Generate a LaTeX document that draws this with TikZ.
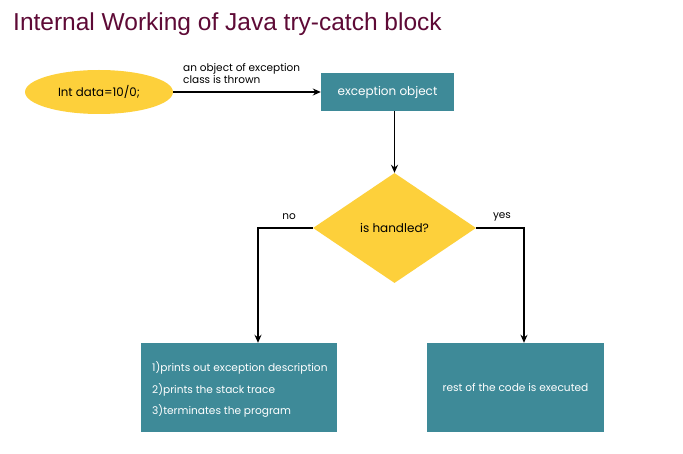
\documentclass[tikz,border=0pt]{standalone}
\usepackage{fontspec}
\setmainfont{Poppins}
\newfontfamily\titlefont{Liberation Sans}
\usetikzlibrary{shapes.geometric,arrows.meta}
\definecolor{ygold}{HTML}{FDD03B}
\definecolor{tealbox}{HTML}{3E8A98}
\definecolor{titlecol}{HTML}{5E0A36}
\tikzset{
  conn/.style={line width=1.3pt,-{Stealth[length=8pt,width=7pt]}},
  tbox/.style={fill=tealbox,draw=none,text=white},
  lbl/.style={font=\fontsize{10.5}{12}\selectfont,text=black,inner sep=0pt},
  boxline/.style={anchor=base west,text=white,font=\fontsize{10.6}{12}\selectfont,inner sep=0pt}
}
\begin{document}
\begin{tikzpicture}[x=1pt,y=-1pt]
\useasboundingbox (0,0) rectangle (683,454);
\fill[white] (0,0) rectangle (683,454);
\node[anchor=base west,text=titlecol,font=\titlefont\fontsize{24.5}{28}\selectfont,inner sep=0pt] (title) at (13,31) {Internal Working of Java try-catch block};
\node[ellipse,fill=ygold,minimum width=148pt,minimum height=44pt,inner sep=0pt,font=\fontsize{11.8}{14}\selectfont] (start) at (99,92) {Int data=10/0;};
\node[tbox,minimum width=133pt,minimum height=38pt,inner sep=0pt,font=\fontsize{12}{14}\selectfont] (exc) at (387.5,92) {exception object};
\node[diamond,fill=ygold,minimum width=163pt,minimum height=110pt,inner sep=0pt,aspect=1.48,font=\fontsize{12}{14}\selectfont] (dec) at (394.5,228) {is handled?};
\node[tbox,minimum width=196pt,minimum height=89pt,inner sep=0pt] (left) at (239,387.5) {};
\node[tbox,minimum width=177pt,minimum height=89pt,inner sep=0pt,font=\fontsize{10.6}{12}\selectfont] (right) at (515.5,387.5) {rest of the code is executed};
\node[boxline] (l1) at (152,372) {1)prints out exception description};
\node[boxline] (l2) at (152,393) {2)prints the stack trace};
\node[boxline] (l3) at (152,414) {3)terminates the program};
\node[lbl,anchor=base west] (t1) at (183,71.5) {an object of exception};
\node[lbl,anchor=base west] (t2) at (183,84) {class is thrown};
\node[lbl] (no) at (289,217) {no};
\node[lbl] (yes) at (502,217) {yes};
\coordinate (lc) at (258,228);
\coordinate (rc) at (524,228);
\draw[conn] (start.east) -- (exc.west);
\draw[conn] (dec.north |- exc.south) -- (dec.north);
\draw[conn] (dec.west) -- (lc) -- (lc |- left.north);
\draw[conn] (dec.east) -- (rc) -- (rc |- right.north);
\end{tikzpicture}
\end{document}
